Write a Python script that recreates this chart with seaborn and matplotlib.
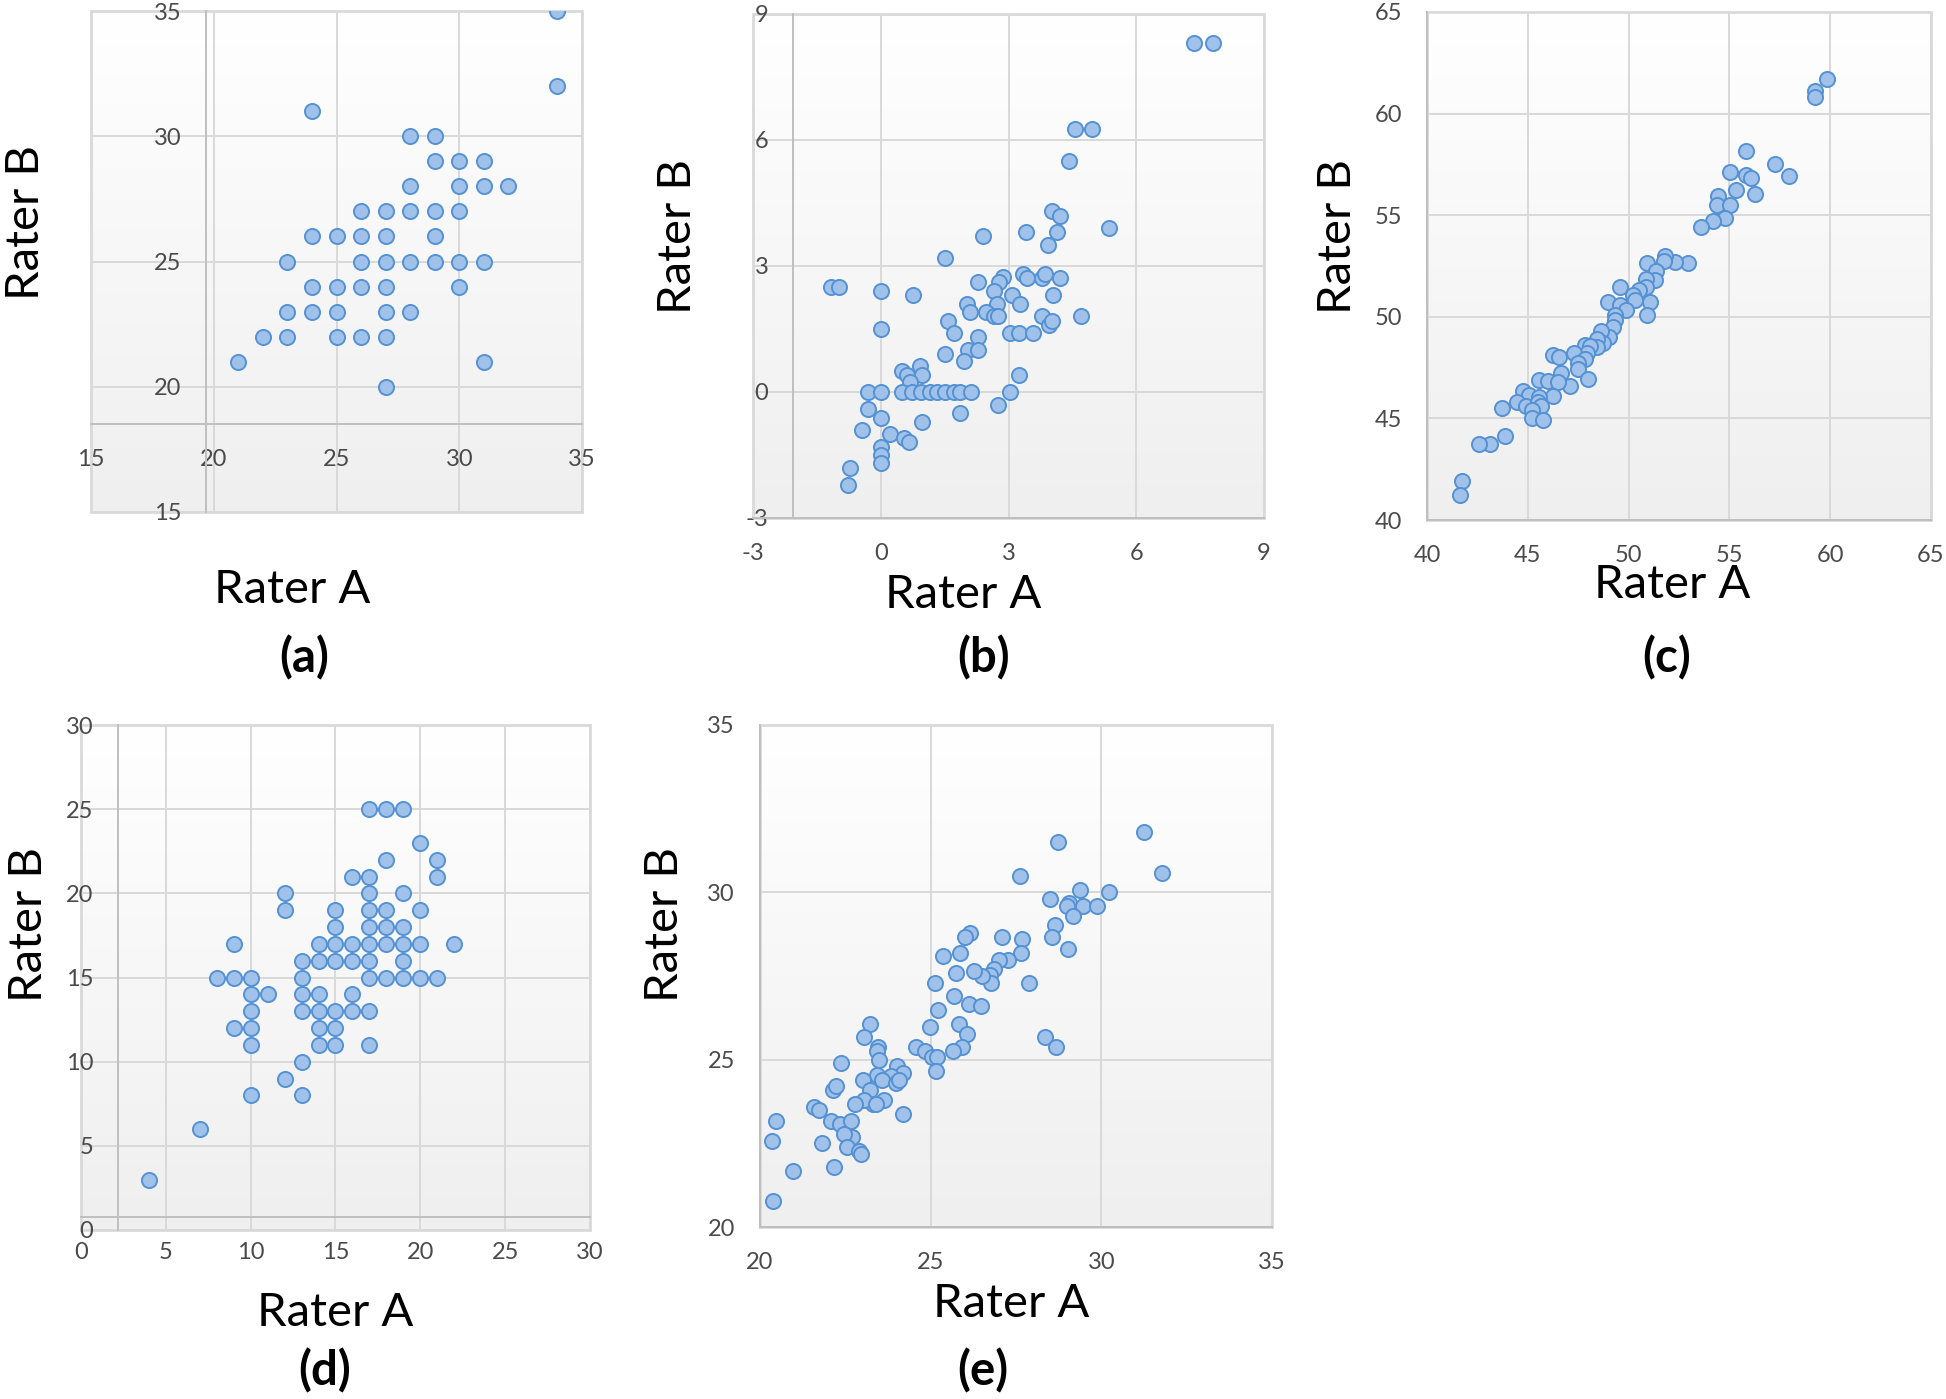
import numpy as np
import pandas as pd
import seaborn as sns
import matplotlib.pyplot as plt
from matplotlib.colors import LinearSegmentedColormap
from matplotlib.patches import Rectangle

# ---- data (Rater A = x, Rater B = y) ----
a_x = [34, 34, 24, 28, 29, 29, 30, 31, 28, 30, 31, 32, 26, 27, 28, 29, 30, 24, 25, 26, 27, 29,
       23, 26, 27, 28, 29, 30, 31, 24, 25, 26, 27, 30, 23, 24, 25, 27, 28, 22, 23, 25, 26, 27,
       21, 31, 27]
a_y = [35, 32, 31, 30, 30, 29, 29, 29, 28, 28, 28, 28, 27, 27, 27, 27, 27, 26, 26, 26, 26, 26,
       25, 25, 25, 25, 25, 25, 25, 24, 24, 24, 24, 24, 23, 23, 23, 23, 23, 22, 22, 22, 22, 22,
       21, 21, 20]

b_x = [7.35, 7.81, 4.56, 4.95, 4.42, 4.01, 4.20, 4.15, 5.36, 3.42, 2.39, 3.93, 1.50, 2.86, 2.78,
       2.29, 3.35, 3.43, 3.79, 3.85, 4.20, -1.17, -0.97, 0.00, 0.76, 2.66, 3.08, 3.26, 4.05, 2.03,
       2.10, 2.72, 2.47, 2.66, 2.75, 1.58, 3.79, 3.94, 4.01, 4.70, 0.00, 1.73, 3.03, 3.25, 3.57,
       2.29, 2.06, 2.29, 1.50, 1.95, 0.49, 0.91, 0.62, 0.98, 0.68, 3.25, -0.29, 0.00, 0.49, 0.74,
       0.94, 1.15, 1.31, 1.50, 1.71, 1.87, 2.12, 3.03, -0.29, 0.00, 1.86, 2.76, 0.96, -0.45, 0.21,
       0.55, 0.66, 0.00, 0.00, 0.00, -0.73, -0.76]
b_y = [8.31, 8.31, 6.26, 6.26, 5.50, 4.32, 4.19, 3.82, 3.91, 3.82, 3.71, 3.50, 3.20, 2.73, 2.63,
       2.61, 2.80, 2.71, 2.71, 2.80, 2.71, 2.51, 2.51, 2.41, 2.31, 2.41, 2.31, 2.10, 2.31, 2.10,
       1.90, 2.10, 1.90, 1.80, 1.80, 1.69, 1.80, 1.60, 1.69, 1.80, 1.49, 1.41, 1.41, 1.41, 1.41,
       1.31, 1.00, 1.00, 0.90, 0.74, 0.49, 0.61, 0.41, 0.40, 0.24, 0.40, 0, 0, 0, 0,
       0, 0, 0, 0, 0, 0, 0, 0, -0.40, -0.61, -0.50, -0.30, -0.71, -0.91, -1.01,
       -1.09, -1.20, -1.30, -1.50, -1.70, -1.80, -2.22]

c_x = [59.83, 59.27, 59.27, 55.80, 57.24, 55.03, 55.82, 56.06, 57.98, 55.32, 56.25, 54.42, 54.39,
       55.04, 54.78, 54.21, 53.59, 52.97, 52.28, 51.80, 51.74, 50.90, 51.38, 51.31, 50.85, 50.88,
       49.59, 50.50, 50.21, 50.33, 51.07, 49.00, 49.59, 49.86, 50.90, 49.33, 49.35, 49.21, 49.03,
       48.62, 48.72, 48.45, 48.43, 47.82, 48.08, 47.94, 47.31, 47.82, 47.48, 47.51, 47.99, 46.27,
       46.53, 46.63, 47.10, 45.54, 45.98, 46.48, 46.23, 44.75, 45.06, 45.58, 44.46, 44.92, 45.49,
       45.66, 45.23, 45.23, 45.75, 43.73, 43.89, 43.13, 42.59, 41.73, 41.66]
c_y = [61.71, 61.11, 60.81, 58.14, 57.52, 57.14, 56.97, 56.82, 56.92, 56.22, 56.05, 55.93, 55.50,
       55.50, 54.88, 54.73, 54.40, 52.63, 52.70, 52.99, 52.74, 52.65, 52.27, 51.83, 51.88, 51.45,
       51.45, 51.31, 51.05, 50.81, 50.73, 50.73, 50.59, 50.33, 50.11, 50.11, 49.85, 49.51, 49.01,
       49.29, 48.70, 48.93, 48.53, 48.62, 48.58, 48.24, 48.22, 47.93, 47.71, 47.42, 46.94, 48.14,
       48.04, 47.25, 46.61, 46.87, 46.82, 46.78, 46.10, 46.34, 46.17, 46.05, 45.82, 45.62, 45.79,
       45.62, 45.39, 45.02, 44.90, 45.50, 44.13, 43.75, 43.75, 41.90, 41.21]

d_x = [17, 18, 19, 20, 18, 21, 16, 17, 21, 12, 17, 19, 12, 15, 17, 18, 20, 15, 17, 18, 19,
       9, 14, 15, 16, 17, 18, 19, 20, 22, 13, 14, 15, 16, 17, 19, 8, 9, 10, 13, 17, 18, 19, 20, 21,
       10, 11, 13, 14, 16, 10, 13, 14, 15, 16, 17, 9, 10, 14, 15, 10, 14, 15, 17, 13, 12, 10, 13,
       7, 4]
d_y = [25, 25, 25, 23, 22, 22, 21, 21, 21, 20, 20, 20, 19, 19, 19, 19, 19, 18, 18, 18, 18,
       17, 17, 17, 17, 17, 17, 17, 17, 17, 16, 16, 16, 16, 16, 16, 15, 15, 15, 15, 15, 15, 15, 15, 15,
       14, 14, 14, 14, 14, 13, 13, 13, 13, 13, 13, 12, 12, 12, 12, 11, 11, 11, 11, 10, 9, 8, 8,
       6, 3]

e_x = [31.24, 28.72, 31.78, 27.62, 29.37, 30.22, 28.51, 29.05, 28.98, 29.47, 29.88, 29.17, 28.63,
       28.55, 29.01, 27.09, 27.68, 27.65, 27.28, 27.00, 26.85, 26.74, 26.76, 26.50, 26.28, 27.89,
       26.14, 26.00, 25.87, 25.36, 25.74, 25.13, 25.68, 26.11, 26.48, 25.22, 25.84, 26.05, 24.99,
       25.91, 25.65, 28.34, 28.68, 24.57, 24.83, 25.04, 25.19, 25.17, 23.23, 23.05, 23.45, 23.43,
       23.48, 22.36, 24.01, 24.19, 23.85, 23.43, 23.02, 23.57, 23.98, 24.06, 23.23, 22.15, 22.23,
       23.63, 23.32, 23.05, 23.39, 22.77, 24.19, 21.59, 21.74, 20.47, 22.09, 22.33, 22.68, 22.70,
       22.47, 20.36, 21.81, 22.54, 22.89, 22.95, 20.97, 22.17, 20.37]
e_y = [31.79, 31.49, 30.59, 30.48, 30.08, 30.00, 29.79, 29.68, 29.59, 29.59, 29.59, 29.30, 29.01,
       28.68, 28.30, 28.68, 28.61, 28.19, 27.98, 27.98, 27.71, 27.54, 27.29, 27.49, 27.66, 27.30,
       28.79, 28.67, 28.19, 28.09, 27.60, 27.30, 26.89, 26.67, 26.59, 26.48, 26.08, 25.77, 25.99,
       25.37, 25.27, 25.69, 25.37, 25.37, 25.26, 25.07, 25.09, 24.67, 26.08, 25.69, 25.39, 25.26,
       24.98, 24.91, 24.80, 24.60, 24.50, 24.53, 24.38, 24.38, 24.29, 24.38, 24.09, 24.09, 24.22,
       23.79, 23.68, 23.79, 23.68, 23.68, 23.39, 23.58, 23.49, 23.17, 23.17, 23.09, 23.17, 22.68,
       22.79, 22.57, 22.50, 22.38, 22.28, 22.17, 21.68, 21.79, 20.77]

panel_letters = ['(a)', '(b)', '(c)', '(d)', '(e)']

sns.set_style('white')
plt.rcParams['font.family'] = ['Lato', 'DejaVu Sans']

W, H = 1946, 1399
fig = plt.figure(figsize=(W / 100, H / 100), dpi=100)

grad_cmap = LinearSegmentedColormap.from_list('bg', ['#ffffff', '#efefef'])
GRID = '#d9d9d9'
AXLINE = '#bfbfbf'


def make_ax(x0, y0, x1, y1):
    # pixel box -> figure fraction
    return fig.add_axes([x0 / W, 1 - y1 / H, (x1 - x0) / W, (y1 - y0) / H])


def panel(ax, xs, ys, lim_x, lim_y, step, cross_x=None, cross_y=None):
    ax.imshow(np.linspace(0, 1, 256).reshape(-1, 1), extent=[*lim_x, *lim_y],
              aspect='auto', cmap=grad_cmap, origin='upper', zorder=0)
    df = pd.DataFrame({'Rater A': xs, 'Rater B': ys})
    sns.scatterplot(data=df, x='Rater A', y='Rater B', ax=ax, s=118,
                    color='#a0c1e9', edgecolor='#5592d4', linewidth=1.4, zorder=3)
    ax.set_xlim(*lim_x)
    ax.set_ylim(*lim_y)
    ax.set_xticks(np.arange(lim_x[0], lim_x[1] + 0.01, step))
    ax.set_yticks(np.arange(lim_y[0], lim_y[1] + 0.01, step))
    ax.set_xlabel('')
    ax.set_ylabel('')
    ax.grid(True, color=GRID, linewidth=1.4)
    ax.set_axisbelow(True)
    for s in ['top', 'right']:
        ax.spines[s].set_visible(False)
    for s in ['left', 'bottom']:
        ax.spines[s].set_color(AXLINE)
        ax.spines[s].set_linewidth(1.4)
    if cross_x is not None:
        ax.spines['left'].set_position(('data', cross_x))
    if cross_y is not None:
        ax.spines['bottom'].set_position(('data', cross_y))
    # plot-area frame, kept under the tick labels
    ax.add_patch(Rectangle((0, 0), 1, 1, transform=ax.transAxes, fill=False,
                           edgecolor=GRID, linewidth=2, zorder=0.4, clip_on=False))
    ax.tick_params(length=0, labelsize=17, colors='#4a4a4a')
    ax.tick_params(axis='x', pad=18)
    ax.tick_params(axis='y', pad=18)
    ax.xaxis.set_major_formatter(plt.FuncFormatter(lambda v, p: f'{v:g}'))
    ax.yaxis.set_major_formatter(plt.FuncFormatter(lambda v, p: f'{v:g}'))


ax_a = make_ax(91, 11, 582, 512)
panel(ax_a, a_x, a_y, (15, 35), (15, 35), 5, cross_x=19.7, cross_y=18.5)
ax_b = make_ax(753, 14, 1264, 518)
panel(ax_b, b_x, b_y, (-3, 9), (-3, 9), 3, cross_x=-2.05)
ax_c = make_ax(1427, 12, 1931, 520)
panel(ax_c, c_x, c_y, (40, 65), (40, 65), 5)
ax_d = make_ax(81, 725, 590, 1230)
panel(ax_d, d_x, d_y, (0, 30), (0, 30), 5, cross_x=2.2, cross_y=0.78)
ax_e = make_ax(760, 725, 1272, 1227)
panel(ax_e, e_x, e_y, (20, 35), (20, 35), 5)

# axis titles and panel letters (pixel positions)
xlab_pos = [(292, 586), (963, 591), (1672, 581), (335, 1309), (1011, 1300)]
ylab_pos = [(22, 223), (674, 236), (1334, 236), (25, 925), (661, 925)]
letter_pos = [(304, 658), (984, 658), (1667, 658), (325, 1371), (983, 1371)]

for (xa, ya), (xb, yb), (xl, yl), lt in zip(xlab_pos, ylab_pos, letter_pos, panel_letters):
    fig.text(xa / W, 1 - (ya + 17) / H, 'Rater A', ha='center', va='baseline',
             fontsize=34, color='black')
    fig.text((xb + 4) / W, 1 - yb / H, 'Rater B', ha='center', va='center',
             rotation=90, fontsize=34, color='black')
    fig.text(xl / W, 1 - yl / H, lt, ha='center', va='center', fontsize=34,
             fontweight='bold', color='black')

fig.savefig('out.png', dpi=100)
